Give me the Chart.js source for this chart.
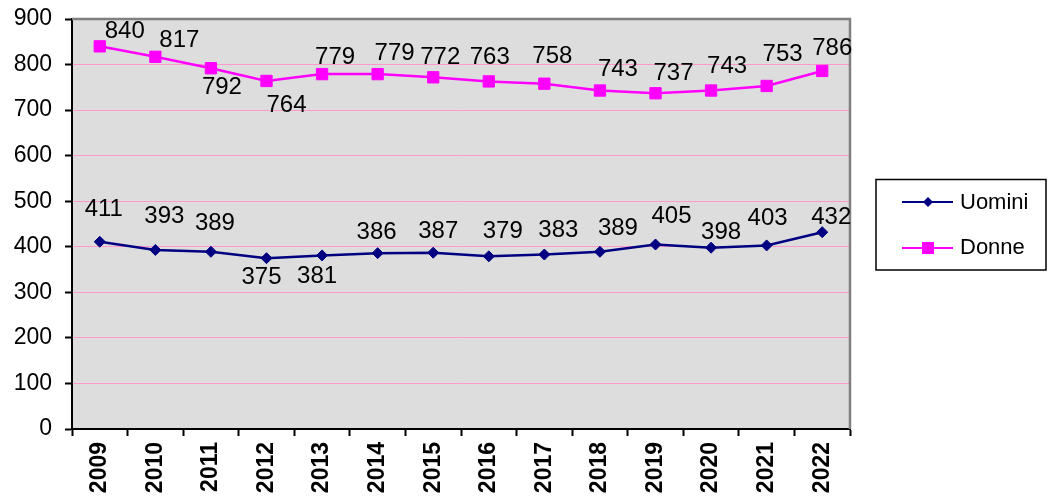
<!DOCTYPE html>
<html>
<head>
<meta charset="utf-8">
<script src="https://cdn.jsdelivr.net/npm/chart.js@4/dist/chart.umd.min.js"></script>
<style>
  body { margin: 0; background: #fff; overflow: hidden; }
  #wrap { width: 1050px; height: 502px; }
</style>
</head>
<body>
<div id="wrap"><canvas id="chart" width="1050" height="502"></canvas></div>
<script>
// DATA
var years = ['2009', '2010', '2011', '2012', '2013', '2014', '2015', '2016', '2017', '2018', '2019', '2020', '2021', '2022'];
var uomini = [411, 393, 389, 375, 381, 386, 387, 379, 383, 389, 405, 398, 403, 432];
var donne = [840, 817, 792, 764, 779, 779, 772, 763, 758, 743, 737, 743, 753, 786];
var yTicks = [0, 100, 200, 300, 400, 500, 600, 700, 800, 900];

// label placement (dx, dy from the marker), as in the original
var uominiLabelOffset = [[4, -32], [9, -34], [4, -28], [-5, 19], [-5, 21], [-1, -21], [5, -21],
  [14, -25], [14, -24], [18, -23], [16, -28], [10, -15], [1, -27], [9, -15]];
var donneLabelOffset = [[25, -15], [24, -16], [11, 19], [20, 24], [13, -17], [17, -21], [7, -20],
  [1, -24], [8, -27], [18, -21], [18, -20], [16, -24], [16, -32], [10, -23]];

var FONT = "'Liberation Sans', Arial, sans-serif";

var plotBackground = {
  id: 'plotBackground',
  beforeDraw: function (chart) {
    var a = chart.chartArea, ctx = chart.ctx;
    ctx.save();
    ctx.fillStyle = '#DDDDDD';
    ctx.fillRect(a.left, a.top, a.right - a.left, a.bottom - a.top);
    ctx.restore();
  },
  afterDatasetsDraw: function (chart) {
    var a = chart.chartArea, ctx = chart.ctx;
    ctx.save();
    // grey frame top / right
    ctx.strokeStyle = '#808080';
    ctx.lineWidth = 2.5;
    ctx.beginPath();
    ctx.moveTo(a.left, a.top);
    ctx.lineTo(a.right, a.top);
    ctx.lineTo(a.right, a.bottom);
    ctx.stroke();

    // value labels
    ctx.fillStyle = '#000';
    ctx.font = '24px ' + FONT;
    ctx.textAlign = 'center';
    ctx.textBaseline = 'middle';
    var offsets = [uominiLabelOffset, donneLabelOffset];
    chart.data.datasets.forEach(function (ds, di) {
      chart.getDatasetMeta(di).data.forEach(function (pt, i) {
        var o = offsets[di][i];
        ctx.fillText(String(ds.data[i]), pt.x + o[0], pt.y + o[1]);
      });
    });
    ctx.restore();
  },
  afterDraw: function (chart) {
    var ctx = chart.ctx;
    ctx.save();
    // legend box
    ctx.strokeStyle = '#000';
    ctx.lineWidth = 1.5;
    ctx.strokeRect(876, 179.5, 170, 90.5);

    ctx.font = '22px ' + FONT;
    ctx.textAlign = 'left';
    ctx.textBaseline = 'middle';
    ctx.fillStyle = '#000';

    // Uomini
    ctx.strokeStyle = '#000080';
    ctx.lineWidth = 2;
    ctx.beginPath(); ctx.moveTo(902, 202); ctx.lineTo(953, 202); ctx.stroke();
    ctx.fillStyle = '#000080';
    ctx.beginPath();
    ctx.moveTo(928 - 5, 202); ctx.lineTo(928, 197); ctx.lineTo(928 + 5, 202); ctx.lineTo(928, 207);
    ctx.closePath(); ctx.fill();
    ctx.fillStyle = '#000';
    ctx.fillText('Uomini', 960, 203);

    // Donne
    ctx.strokeStyle = '#FF00FF';
    ctx.beginPath(); ctx.moveTo(902, 248); ctx.lineTo(953, 248); ctx.stroke();
    ctx.fillStyle = '#FF00FF';
    ctx.fillRect(922, 242, 12, 12);
    ctx.fillStyle = '#000';
    ctx.fillText('Donne', 960, 248);
    ctx.restore();
  }
};

new Chart(document.getElementById('chart'), {
  type: 'line',
  data: {
    labels: years,
    datasets: [
      {
        label: 'Uomini',
        data: uomini,
        borderColor: '#000080',
        backgroundColor: '#000080',
        borderWidth: 2.5,
        pointStyle: 'rectRot',
        pointRadius: 5.5,
        pointBorderWidth: 1,
        tension: 0
      },
      {
        label: 'Donne',
        data: donne,
        borderColor: '#FF00FF',
        backgroundColor: '#FF00FF',
        borderWidth: 2.5,
        pointStyle: 'rect',
        pointRadius: 8,
        pointBorderWidth: 1,
        tension: 0
      }
    ]
  },
  options: {
    responsive: false,
    animation: false,
    layout: { padding: { top: 19, right: 200, left: 0, bottom: 0 } },
    plugins: {
      legend: { display: false },
      tooltip: { enabled: false }
    },
    scales: {
      x: {
        offset: true,
        grid: { offset: true, drawOnChartArea: false, tickLength: 7, tickColor: '#000', tickWidth: 2 },
        border: { color: '#000', width: 2 },
        ticks: {
          minRotation: 90, maxRotation: 90, autoSkip: false, padding: 6,
          color: '#000', font: { family: FONT, size: 23, weight: 'bold' }
        },
        afterFit: function (s) { s.height = 73; s.paddingLeft = 0; s.paddingRight = 0; }
      },
      y: {
        min: yTicks[0],
        max: yTicks[yTicks.length - 1],
        afterBuildTicks: function (s) { s.ticks = yTicks.map(function (v) { return { value: v }; }); },
        grid: {
          color: function (c) { return c.tick && c.tick.value === 0 ? 'rgba(0,0,0,0)' : '#FF99CC'; },
          tickColor: '#000', tickLength: 7, tickWidth: 2, lineWidth: 1
        },
        border: { color: '#000', width: 2 },
        ticks: { padding: 13, color: '#000', font: { family: FONT, size: 23 } },
        afterFit: function (s) { s.width = 72; s.paddingTop = 0; s.paddingBottom = 0; }
      }
    }
  },
  plugins: [plotBackground]
});
</script>
</body>
</html>
